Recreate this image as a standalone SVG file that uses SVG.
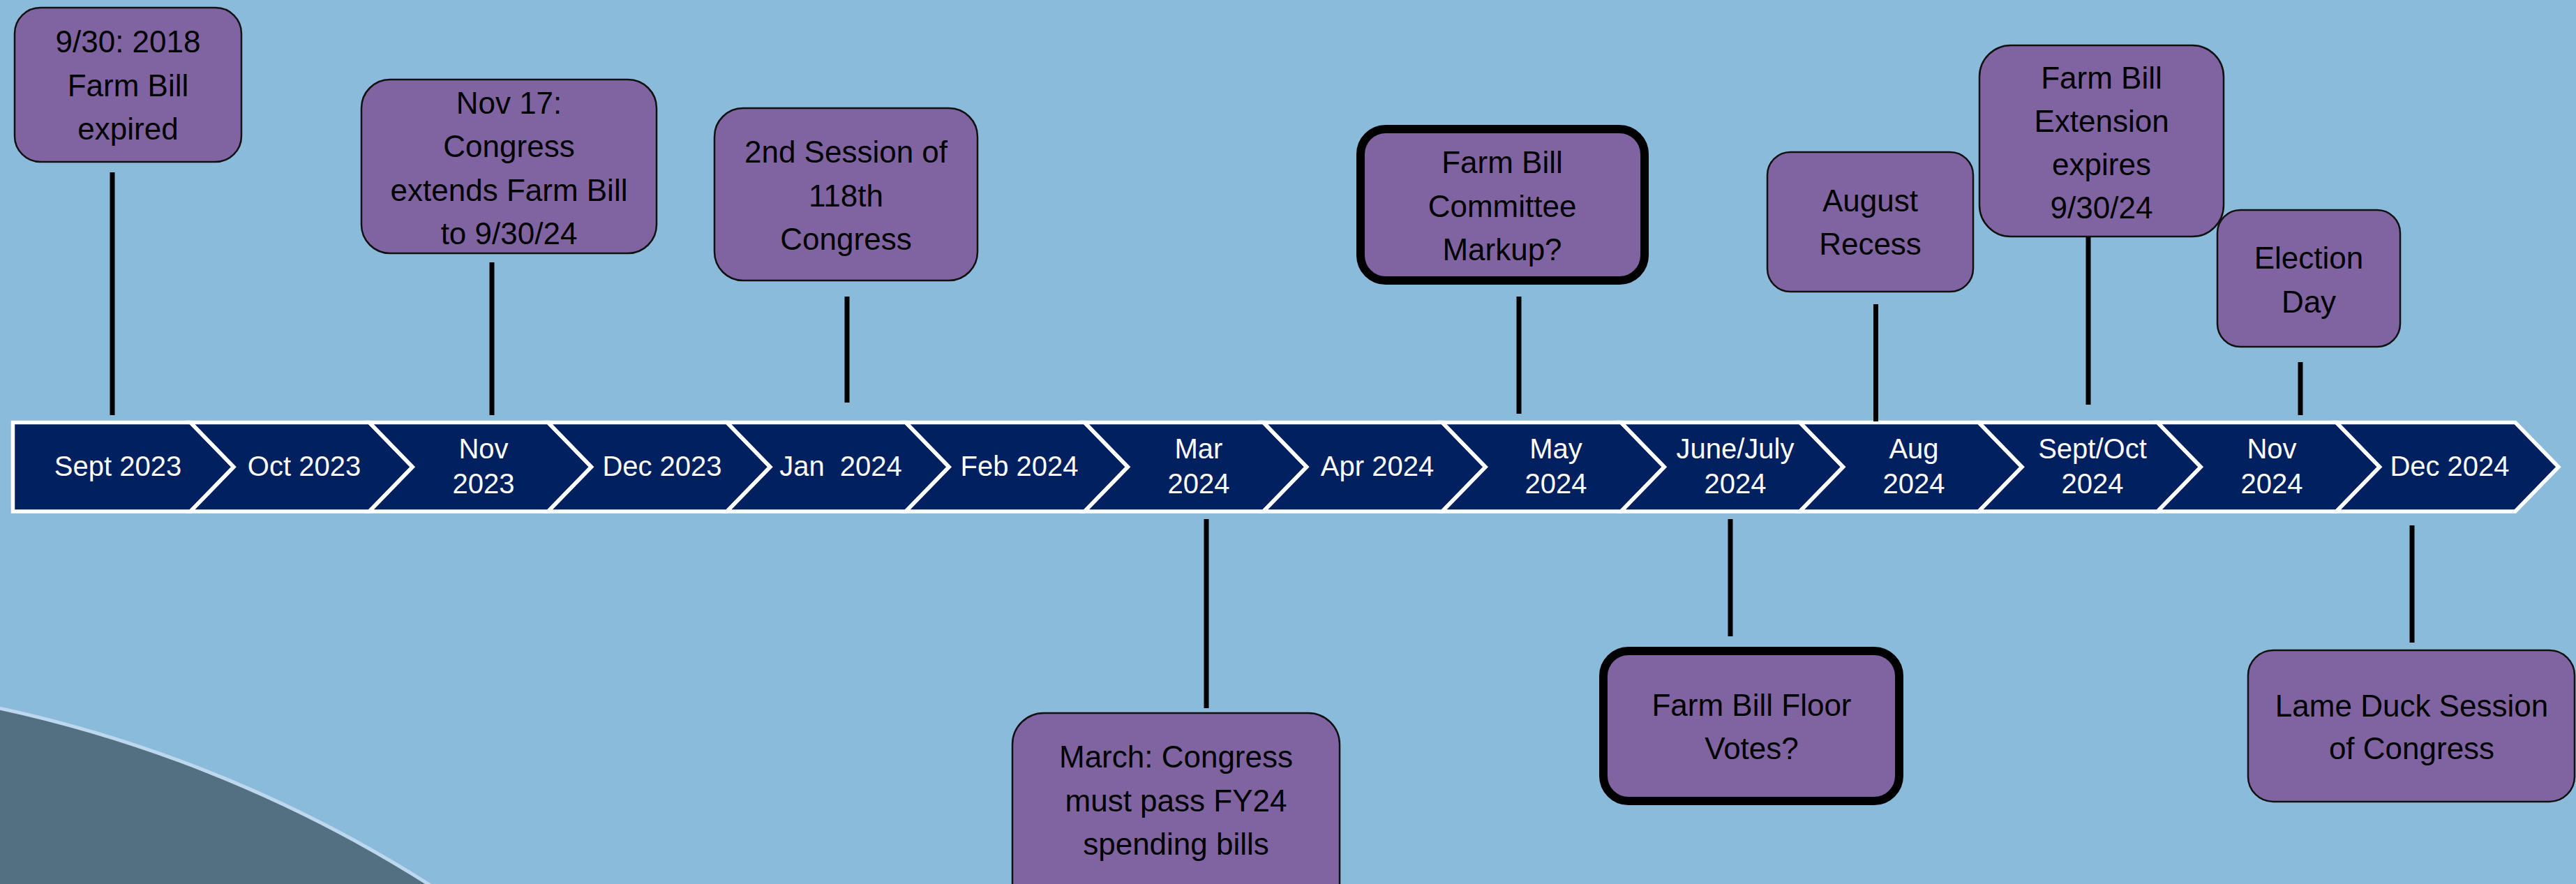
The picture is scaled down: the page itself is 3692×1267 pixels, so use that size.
<svg xmlns="http://www.w3.org/2000/svg" width="3692" height="1267" viewBox="0 0 3692 1267">
<style>
.bg{fill:#8BBBDB}
.chev{fill:#002060;stroke:#FFFFFF;stroke-width:5.5;stroke-linejoin:miter}
.mon{font-family:"Liberation Sans",Arial,sans-serif;font-size:40px;fill:#FFFFFF;text-anchor:middle}
.box{fill:#8064A2;stroke:#111111;stroke-width:2.5}
.boxk{fill:#8064A2;stroke:#000000;stroke-width:12}
.bt{font-family:"Liberation Sans",Arial,sans-serif;font-size:44px;fill:#000000;text-anchor:middle}
.con{stroke:#000000;stroke-width:7;fill:none}
</style>
<rect class="bg" x="0" y="0" width="3692" height="1267"/>
<circle cx="-403" cy="2872" r="1900" fill="#537083" stroke="#BDD7EE" stroke-width="5"/>

<g id="timeline">
<polygon class="chev" points="18.5,605.5 273,605.5 335,669.25 273,733 18.5,733"/>
<polygon class="chev" points="273,605.5 529.3,605.5 591.3,669.25 529.3,733 273,733 335,669.25"/>
<polygon class="chev" points="529.3,605.5 785.6,605.5 847.6,669.25 785.6,733 529.3,733 591.3,669.25"/>
<polygon class="chev" points="785.6,605.5 1041.9,605.5 1103.9,669.25 1041.9,733 785.6,733 847.6,669.25"/>
<polygon class="chev" points="1041.9,605.5 1298.2,605.5 1360.2,669.25 1298.2,733 1041.9,733 1103.9,669.25"/>
<polygon class="chev" points="1298.2,605.5 1554.5,605.5 1616.5,669.25 1554.5,733 1298.2,733 1360.2,669.25"/>
<polygon class="chev" points="1554.5,605.5 1810.8,605.5 1872.8,669.25 1810.8,733 1554.5,733 1616.5,669.25"/>
<polygon class="chev" points="1810.8,605.5 2067.1,605.5 2129.1,669.25 2067.1,733 1810.8,733 1872.8,669.25"/>
<polygon class="chev" points="2067.1,605.5 2323.4,605.5 2385.4,669.25 2323.4,733 2067.1,733 2129.1,669.25"/>
<polygon class="chev" points="2323.4,605.5 2579.7,605.5 2641.7,669.25 2579.7,733 2323.4,733 2385.4,669.25"/>
<polygon class="chev" points="2579.7,605.5 2836,605.5 2898,669.25 2836,733 2579.7,733 2641.7,669.25"/>
<polygon class="chev" points="2836,605.5 3092.3,605.5 3154.3,669.25 3092.3,733 2836,733 2898,669.25"/>
<polygon class="chev" points="3092.3,605.5 3348.6,605.5 3410.6,669.25 3348.6,733 3092.3,733 3154.3,669.25"/>
<polygon class="chev" points="3348.6,605.5 3604.9,605.5 3666.9,669.25 3604.9,733 3348.6,733 3410.6,669.25"/>
<text class="mon" x="169" y="682">Sept 2023</text>
<text class="mon" x="436" y="682">Oct 2023</text>
<text class="mon" x="693" y="657">Nov</text><text class="mon" x="693" y="707">2023</text>
<text class="mon" x="949" y="682">Dec 2023</text>
<text class="mon" x="1205" y="682" xml:space="preserve">Jan  2024</text>
<text class="mon" x="1461" y="682">Feb 2024</text>
<text class="mon" x="1718" y="657">Mar</text><text class="mon" x="1718" y="707">2024</text>
<text class="mon" x="1974" y="682">Apr 2024</text>
<text class="mon" x="2230" y="657">May</text><text class="mon" x="2230" y="707">2024</text>
<text class="mon" x="2487" y="657">June/July</text><text class="mon" x="2487" y="707">2024</text>
<text class="mon" x="2743" y="657">Aug</text><text class="mon" x="2743" y="707">2024</text>
<text class="mon" x="2999" y="657">Sept/Oct</text><text class="mon" x="2999" y="707">2024</text>
<text class="mon" x="3256" y="657">Nov</text><text class="mon" x="3256" y="707">2024</text>
<text class="mon" x="3511" y="682">Dec 2024</text>
</g>

<g id="connectors">
<line class="con" x1="161" y1="247" x2="161" y2="595"/>
<line class="con" x1="705" y1="376" x2="705" y2="595"/>
<line class="con" x1="1214" y1="425" x2="1214" y2="577"/>
<line class="con" x1="2177" y1="425" x2="2177" y2="593"/>
<line class="con" x1="2688.5" y1="436" x2="2688.5" y2="604"/>
<line class="con" x1="2993" y1="340" x2="2993" y2="580"/>
<line class="con" x1="3297" y1="519" x2="3297" y2="595"/>
<line class="con" x1="1729" y1="744" x2="1729" y2="1015"/>
<line class="con" x1="2480" y1="744" x2="2480" y2="912"/>
<line class="con" x1="3457" y1="753" x2="3457" y2="921"/>
</g>

<g id="box-farm-bill-expired">
<rect class="box" x="21" y="11" width="325" height="221" rx="37" ry="37"/>
<text class="bt" x="183.5" y="75">9/30: 2018</text>
<text class="bt" x="183.5" y="138">Farm Bill</text>
<text class="bt" x="183.5" y="200">expired</text>
</g>

<g id="box-congress-extends">
<rect class="box" x="518" y="114" width="423" height="249" rx="41" ry="41"/>
<text class="bt" x="729.5" y="163">Nov 17:</text>
<text class="bt" x="729.5" y="225">Congress</text>
<text class="bt" x="729.5" y="287.5">extends Farm Bill</text>
<text class="bt" x="729.5" y="350">to 9/30/24</text>
</g>

<g id="box-second-session">
<rect class="box" x="1024" y="155" width="377" height="247" rx="41" ry="41"/>
<text class="bt" x="1212.5" y="233">2nd Session of</text>
<text class="bt" x="1212.5" y="295.5">118th</text>
<text class="bt" x="1212.5" y="358">Congress</text>
</g>

<g id="box-committee-markup">
<rect class="boxk" x="1950" y="185" width="407" height="217" rx="36" ry="36"/>
<text class="bt" x="2153" y="248">Farm Bill</text>
<text class="bt" x="2153" y="310.5">Committee</text>
<text class="bt" x="2153" y="373">Markup?</text>
</g>

<g id="box-august-recess">
<rect class="box" x="2533" y="218" width="295" height="200" rx="33" ry="33"/>
<text class="bt" x="2680.5" y="302.5">August</text>
<text class="bt" x="2680.5" y="365">Recess</text>
</g>

<g id="box-extension-expires">
<rect class="box" x="2837" y="65" width="350" height="274" rx="45" ry="45"/>
<text class="bt" x="3012" y="126.5">Farm Bill</text>
<text class="bt" x="3012" y="188.5">Extension</text>
<text class="bt" x="3012" y="250.5">expires</text>
<text class="bt" x="3012" y="312.5">9/30/24</text>
</g>

<g id="box-election-day">
<rect class="box" x="3178" y="301" width="262" height="196" rx="33" ry="33"/>
<text class="bt" x="3309" y="385">Election</text>
<text class="bt" x="3309" y="447.5">Day</text>
</g>

<g id="box-march-spending">
<rect class="box" x="1451" y="1022" width="469" height="300" rx="45" ry="45"/>
<text class="bt" x="1685.5" y="1100">March: Congress</text>
<text class="bt" x="1685.5" y="1162.5">must pass FY24</text>
<text class="bt" x="1685.5" y="1225">spending bills</text>
</g>

<g id="box-floor-votes">
<rect class="boxk" x="2298" y="933" width="424" height="215" rx="36" ry="36"/>
<text class="bt" x="2510.5" y="1026">Farm Bill Floor</text>
<text class="bt" x="2510.5" y="1088">Votes?</text>
</g>

<g id="box-lame-duck">
<rect class="box" x="3222" y="932" width="468" height="217" rx="36" ry="36"/>
<text class="bt" x="3456.5" y="1026.5">Lame Duck Session</text>
<text class="bt" x="3456.5" y="1088">of Congress</text>
</g>
</svg>
